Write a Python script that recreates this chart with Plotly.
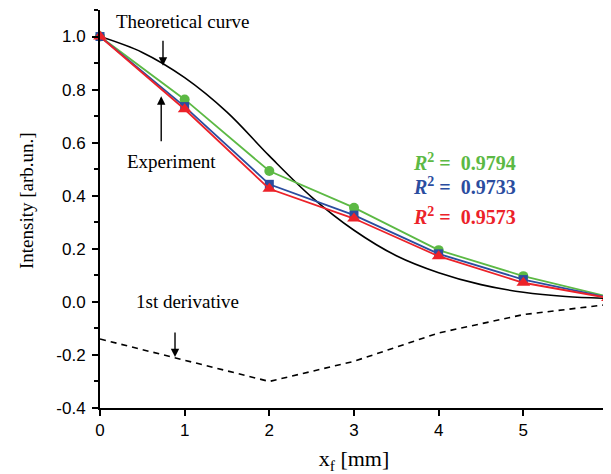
import plotly.graph_objects as go

# Experimental data
x_exp = [0, 1, 2, 3, 4, 5, 6]
green_y = [1.0, 0.763, 0.493, 0.355, 0.195, 0.097, 0.02]
blue_y = [1.0, 0.736, 0.443, 0.327, 0.181, 0.084, 0.017]
red_y = [1.0, 0.726, 0.426, 0.314, 0.172, 0.072, 0.015]

# Theoretical curve
x_theo = [0, 0.5, 1, 1.5, 2, 2.5, 3, 3.5, 4, 4.5, 5, 5.5, 6]
theo_y = [1.0, 0.94, 0.845, 0.715, 0.55, 0.395, 0.27, 0.174, 0.11, 0.065, 0.036, 0.02, 0.013]

# 1st derivative
x_der = [0, 1, 2, 3, 4, 5, 6]
der_y = [-0.14, -0.221, -0.30, -0.224, -0.117, -0.048, -0.01]

r2_labels = ["0.9794", "0.9733", "0.9573"]
y_tickvals = [-0.4, -0.2, 0.0, 0.2, 0.4, 0.6, 0.8, 1.0]
y_ticktext = ["-0.4", "-0.2", "0.0", "0.2", "0.4", "0.6", "0.8", "1.0"]
x_tickvals = [0, 1, 2, 3, 4, 5, 6]

GREEN = "#5cb944"
BLUE = "#2b4d9f"
RED = "#ec2229"

fig = go.Figure()
fig.add_trace(go.Scatter(x=x_theo, y=theo_y, mode="lines", line=dict(color="black", width=1.6, shape="spline", smoothing=1.0), cliponaxis=False))
fig.add_trace(go.Scatter(x=x_der, y=der_y, mode="lines", line=dict(color="black", width=1.6, dash="6px,5px")))
fig.add_trace(go.Scatter(x=x_exp, y=green_y, mode="lines+markers", line=dict(color=GREEN, width=1.8),
                         marker=dict(symbol="circle", size=10, color=GREEN), cliponaxis=False))
fig.add_trace(go.Scatter(x=x_exp, y=blue_y, mode="lines+markers", line=dict(color=BLUE, width=1.8),
                         marker=dict(symbol="square", size=9, color=BLUE), cliponaxis=False))
fig.add_trace(go.Scatter(x=x_exp, y=red_y, mode="lines+markers", line=dict(color=RED, width=1.8),
                         marker=dict(symbol="triangle-up", size=12, color=RED), cliponaxis=False))

serif = "Liberation Serif"
ann = []
# text labels
ann.append(dict(x=0.97, y=1.055, xref="x", yref="y", text="Theoretical curve", showarrow=False,
                font=dict(family=serif, size=19, color="black")))
ann.append(dict(x=0.85, y=0.53, xref="x", yref="y", text="Experiment", showarrow=False,
                font=dict(family=serif, size=19, color="black")))
ann.append(dict(x=1.03, y=0.0, xref="x", yref="y", text="1st derivative", showarrow=False,
                font=dict(family=serif, size=19, color="black")))
# arrows
for (xa, ytail, ytip) in [(0.744, 0.99, 0.89), (0.723, 0.60, 0.775), (0.886, -0.11, -0.208)]:
    ann.append(dict(x=xa, y=ytip, ax=xa, ay=ytail, xref="x", yref="y", axref="x", ayref="y",
                    text="", showarrow=True, arrowhead=2, arrowsize=1.2, arrowwidth=1.4, arrowcolor="black"))
# R^2 labels
for lab, col, yy in zip(r2_labels, [GREEN, BLUE, RED], [0.527, 0.436, 0.323]):
    ann.append(dict(x=4.31, y=yy, xref="x", yref="y", showarrow=False,
                    text="<b><i>R</i><sup>2</sup> =  " + lab + "</b>",
                    font=dict(family=serif, size=20, color=col)))
# y-axis title as annotation
ann.append(dict(x=-74 / 508, y=(408 - 201) / 398, xref="paper", yref="paper", showarrow=False,
                text="Intensity [arb.un.]", textangle=-90, xanchor="center", yanchor="middle",
                font=dict(family=serif, size=19, color="black")))

fig.update_layout(
    width=603, height=466,
    margin=dict(l=92, r=3, t=2, b=66),
    paper_bgcolor="white", plot_bgcolor="white",
    showlegend=False,
    annotations=ann,
    xaxis=dict(range=[0, 6], tickvals=x_tickvals, showgrid=False, zeroline=False, ticklabeloverflow="allow",
               automargin=False,
               showline=True, linecolor="black", linewidth=2, ticks="outside", ticklen=6, tickwidth=1.5,
               tickcolor="black", tickfont=dict(family="Liberation Sans", size=17, color="black"),
               title=dict(text="x<sub>f</sub> [mm]", font=dict(family=serif, size=22, color="black"), standoff=14)),
    yaxis=dict(range=[-0.4, 1.1], tickvals=y_tickvals, ticktext=y_ticktext, showgrid=False, zeroline=False,
               automargin=False,
               showline=True, linecolor="black", linewidth=2, ticks="outside", ticklen=6, tickwidth=1.5,
               ticklabelstandoff=3,
               tickcolor="black", tickfont=dict(family="Liberation Sans", size=17, color="black"),
               minor=dict(tickvals=[-0.3, -0.1, 0.1, 0.3, 0.5, 0.7, 0.9, 1.1], ticks="outside", ticklen=4,
                          tickwidth=1.5, tickcolor="black", showgrid=False)),
)

fig.write_html("out.html")
